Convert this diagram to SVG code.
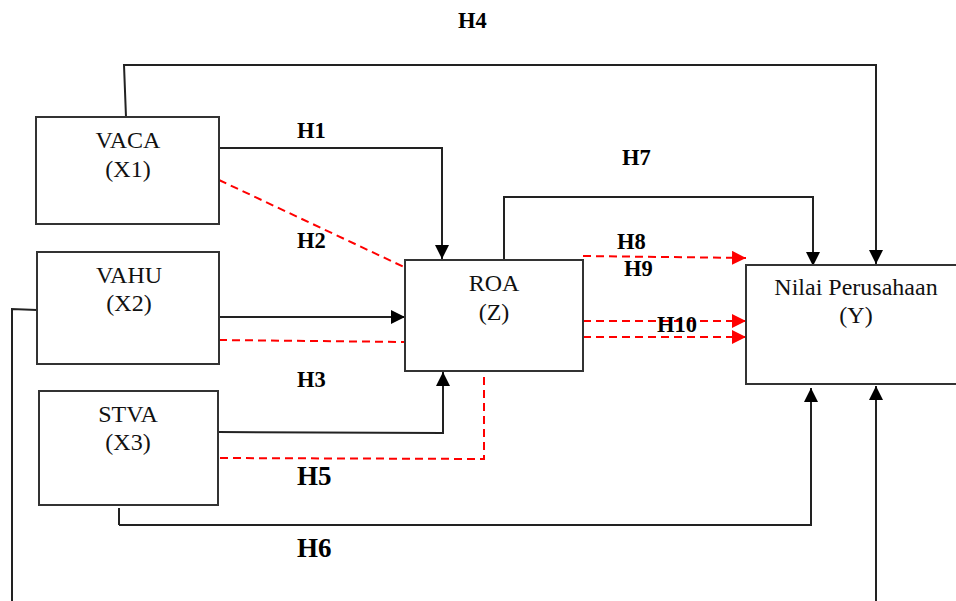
<svg xmlns="http://www.w3.org/2000/svg" width="956" height="601" viewBox="0 0 956 601">
<style>
.box{fill:#fff;stroke:#333;stroke-width:2}
.t{font-family:"Liberation Serif","Times New Roman",serif;font-size:24px;fill:#111;text-anchor:middle}
.h{font-family:"Liberation Serif","Times New Roman",serif;font-size:22.5px;font-weight:bold;fill:#000}
.hb{font-family:"Liberation Serif","Times New Roman",serif;font-size:27px;font-weight:bold;fill:#000}
.ln{fill:none;stroke:#222;stroke-width:2}
.rd{fill:none;stroke:#f00;stroke-width:2;stroke-dasharray:8 5}
</style>
<defs>
<marker id="ab" markerUnits="userSpaceOnUse" markerWidth="14" markerHeight="14" viewBox="0 0 12 12" refX="12" refY="6" orient="auto">
<path d="M0,0 L12,6 L0,12 z" fill="#000"/>
</marker>
<marker id="ar" markerUnits="userSpaceOnUse" markerWidth="14" markerHeight="14" viewBox="0 0 12 12" refX="12" refY="6" orient="auto">
<path d="M0,0 L12,6 L0,12 z" fill="#f00"/>
</marker>
</defs>
<rect width="956" height="601" fill="#fff"/>
<g id="connectors">
<polyline class="ln" points="126,117 124,65 876,65 876,264" marker-end="url(#ab)"/>
<polyline class="ln" points="219,148 442,148 442,259" marker-end="url(#ab)"/>
<line class="rd" x1="219" y1="180" x2="404" y2="267"/>
<line class="ln" x1="219" y1="317" x2="405" y2="317" marker-end="url(#ab)"/>
<line class="rd" x1="219" y1="340" x2="405" y2="342"/>
<polyline class="ln" points="218,432 443,433 443,372" marker-end="url(#ab)"/>
<polyline class="rd" points="220,458 484,459 484,374"/>
<polyline class="ln" points="119,508 119,525"/>
<polyline class="ln" points="119,525 811,525 811,388" marker-end="url(#ab)"/>
<polyline class="ln" points="37,310 12,309 12,601"/>
<line class="ln" x1="876" y1="601" x2="876" y2="386" marker-end="url(#ab)"/>
<polyline class="ln" points="504,260 504,197 813,197 813,266" marker-end="url(#ab)"/>
<line class="rd" x1="583" y1="256" x2="746" y2="258" marker-end="url(#ar)"/>
<line class="rd" x1="583" y1="321" x2="746" y2="321" marker-end="url(#ar)"/>
<line class="rd" x1="583" y1="337" x2="746" y2="337" marker-end="url(#ar)"/>
</g>
<g id="node-vaca">
<rect class="box" x="36" y="117" width="183" height="107"/>
<text class="t" x="128" y="148">VACA</text>
<text class="t" x="128" y="177">(X1)</text>
</g>
<g id="node-vahu">
<rect class="box" x="37" y="252" width="182" height="112"/>
<text class="t" x="129" y="283">VAHU</text>
<text class="t" x="129" y="311">(X2)</text>
</g>
<g id="node-stva">
<rect class="box" x="39" y="391" width="179" height="114"/>
<text class="t" x="128" y="422">STVA</text>
<text class="t" x="128" y="450">(X3)</text>
</g>
<g id="node-roa">
<rect class="box" x="405" y="260" width="178" height="111"/>
<text class="t" x="494" y="291">ROA</text>
<text class="t" x="494" y="320">(Z)</text>
</g>
<g id="node-nilai">
<rect class="box" x="746" y="265" width="222" height="119"/>
<text class="t" x="856" y="295">Nilai Perusahaan</text>
<text class="t" x="856" y="323">(Y)</text>
</g>
<g id="labels">
<text class="h" x="458" y="28">H4</text>
<text class="h" x="297" y="138">H1</text>
<text class="h" x="297" y="248">H2</text>
<text class="h" x="297" y="387">H3</text>
<text class="hb" x="297" y="485">H5</text>
<text class="hb" x="297" y="557">H6</text>
<text class="h" x="622" y="165">H7</text>
<text class="h" x="617" y="249">H8</text>
<text class="h" x="624" y="276">H9</text>
<text class="h" x="657" y="332">H10</text>
</g>
</svg>
